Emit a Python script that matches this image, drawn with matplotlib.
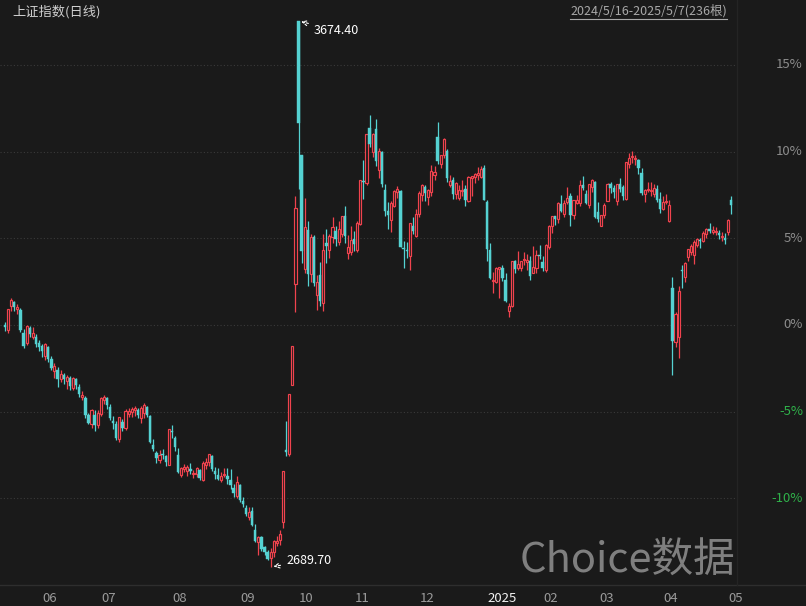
import matplotlib
matplotlib.use("Agg")
import matplotlib.pyplot as plt
import matplotlib.transforms as mtransforms
import pandas as pd

plt.rcParams["font.family"] = ["Noto Sans CJK SC", "DejaVu Sans"]

# trading calendar 2024/5/16 - 2025/5/7
holidays = ["2024-06-10", "2024-09-16", "2024-09-17", "2024-10-01", "2024-10-02",
            "2024-10-03", "2024-10-04", "2024-10-07", "2025-01-01", "2025-01-28",
            "2025-01-29", "2025-01-30", "2025-01-31", "2025-02-03", "2025-02-04",
            "2025-04-04", "2025-05-01", "2025-05-02", "2025-05-05"]

opens = [
    3126, 3117, 3160, 3167, 3155, 3153, 3111, 3093, 3120, 3104, 3105, 3093,
    3089, 3070, 3087, 3064, 3043, 3044, 3029, 3035, 3025, 3030, 3012, 3028, 3015, 2997,
    2995, 2963, 2948, 2963, 2946,
    2966, 2991, 2994, 2978, 2953, 2948, 2920, 2951, 2940, 2965, 2970, 2972, 2972, 2958,
    2968, 2978, 2962, 2910, 2896, 2882, 2893, 2889, 2874,
    2934, 2922, 2891, 2856, 2866, 2863, 2866, 2857, 2857, 2864, 2846, 2874, 2879, 2890,
    2863, 2855, 2847, 2855, 2854, 2846, 2832, 2818,
    2837, 2808, 2796, 2779, 2790, 2756, 2735, 2743, 2725, 2717, 2705, 2716, 2733, 2738,
    2770, 2901, 2893, 3017, 3200,
    3674.40, 3433, 3227, 3298, 3218, 3285, 3181, 3216, 3166, 3274, 3262, 3284, 3296, 3275,
    3291, 3323, 3256, 3258,
    3281, 3262, 3309, 3385, 3382, 3482, 3438, 3479, 3406, 3438, 3369, 3332, 3315, 3341,
    3366, 3367, 3265, 3262, 3250, 3304, 3287,
    3326, 3360, 3375, 3356, 3365, 3397, 3465, 3416, 3432, 3439, 3379, 3388, 3362, 3355,
    3368, 3371, 3350, 3392, 3393, 3397, 3393, 3409,
    3347, 3261, 3206, 3204, 3227, 3228, 3207, 3152, 3160, 3241, 3228, 3229, 3244, 3240,
    3242, 3219, 3229, 3252,
    3239, 3226, 3266, 3304, 3322, 3318, 3344, 3326, 3347, 3359, 3325, 3346, 3346, 3379,
    3363, 3342, 3374, 3383,
    3330, 3305, 3325, 3350, 3380, 3373, 3349, 3381, 3375, 3353, 3416, 3429, 3426, 3423,
    3401, 3362, 3369, 3367, 3363, 3372, 3353,
    3336, 3347, 3314, 3193, 3095, 3104, 3226, 3213, 3249, 3258, 3253, 3270, 3277, 3277,
    3290, 3300, 3294, 3294, 3292, 3285, 3283,
    3293, 3351,
]
highs = [
    3131, 3155, 3174, 3170, 3163, 3157, 3119, 3126, 3125, 3122, 3110, 3099,
    3092, 3093, 3089, 3070, 3057, 3050, 3045, 3040, 3036, 3034, 3033, 3030, 3020, 3007,
    2998, 2968, 2975, 2972, 2972,
    2996, 3000, 2996, 2983, 2962, 2953, 2960, 2957, 2975, 2976, 2979, 2980, 2976, 2980,
    2986, 2980, 2963, 2920, 2898, 2900, 2902, 2891, 2939,
    2945, 2925, 2905, 2870, 2875, 2873, 2877, 2865, 2870, 2867, 2880, 2886, 2894, 2891,
    2870, 2868, 2860, 2868, 2868, 2866, 2840, 2854,
    2840, 2815, 2802, 2797, 2798, 2768, 2746, 2745, 2728, 2720, 2724, 2739, 2746, 2756,
    2863, 2952, 3001, 3088, 3359,
    3674.40, 3433, 3355, 3313, 3290, 3288, 3217, 3240, 3291, 3300, 3291, 3321, 3304, 3313,
    3323, 3340, 3288, 3304,
    3296, 3313, 3387, 3423, 3471, 3505, 3472, 3497, 3445, 3440, 3380, 3347, 3349, 3369,
    3376, 3370, 3277, 3275, 3310, 3320, 3336,
    3367, 3380, 3379, 3371, 3414, 3412, 3492, 3433, 3464, 3443, 3396, 3393, 3383, 3378,
    3388, 3378, 3394, 3394, 3400, 3411, 3413, 3414,
    3352, 3273, 3222, 3230, 3231, 3234, 3220, 3165, 3242, 3243, 3259, 3242, 3258, 3254,
    3250, 3268, 3262, 3270,
    3250, 3272, 3307, 3323, 3323, 3348, 3360, 3352, 3375, 3364, 3352, 3360, 3387, 3395,
    3370, 3381, 3389, 3385,
    3347, 3325, 3346, 3382, 3384, 3379, 3380, 3392, 3378, 3420, 3436, 3439, 3432, 3425,
    3409, 3372, 3383, 3383, 3381, 3378, 3365,
    3359, 3362, 3352, 3213, 3150, 3196, 3234, 3240, 3263, 3272, 3279, 3282, 3283, 3295,
    3301, 3310, 3304, 3303, 3298, 3293, 3292,
    3318, 3358,
]
lows = [
    3116, 3111, 3151, 3151, 3145, 3114, 3085, 3090, 3104, 3100, 3086, 3079,
    3068, 3062, 3060, 3044, 3030, 3014, 3024, 3020, 3010, 3009, 3008, 3010, 2996, 2990,
    2958, 2948, 2940, 2935, 2940,
    2961, 2984, 2975, 2955, 2938, 2918, 2915, 2934, 2937, 2960, 2960, 2962, 2958, 2950,
    2958, 2960, 2913, 2898, 2877, 2878, 2885, 2872, 2873,
    2922, 2898, 2859, 2852, 2860, 2854, 2857, 2850, 2852, 2847, 2844, 2866, 2872, 2863,
    2848, 2847, 2842, 2851, 2840, 2830, 2816, 2814,
    2806, 2797, 2782, 2774, 2764, 2734, 2712, 2718, 2712, 2703, 2689.70, 2708, 2727, 2730,
    2760, 2889, 2889, 3017, 3150,
    3371, 3237, 3220, 3196, 3203, 3197, 3153, 3160, 3152, 3238, 3247, 3274, 3269, 3270,
    3285, 3274, 3245, 3252,
    3260, 3258, 3307, 3354, 3379, 3447, 3429, 3413, 3391, 3374, 3322, 3300, 3294, 3339,
    3355, 3267, 3228, 3247, 3226, 3290, 3285,
    3321, 3350, 3349, 3343, 3359, 3387, 3416, 3410, 3427, 3384, 3374, 3354, 3354, 3351,
    3358, 3341, 3348, 3358, 3382, 3388, 3391, 3351,
    3242, 3209, 3183, 3202, 3175, 3206, 3167, 3141, 3159, 3220, 3226, 3224, 3235, 3226,
    3208, 3219, 3220, 3245,
    3223, 3221, 3263, 3292, 3306, 3310, 3330, 3320, 3344, 3305, 3318, 3344, 3340, 3369,
    3345, 3337, 3365, 3319,
    3311, 3304, 3319, 3350, 3364, 3355, 3342, 3365, 3352, 3351, 3409, 3419, 3415, 3398,
    3361, 3347, 3366, 3358, 3357, 3348, 3328,
    3334, 3345, 3312, 3036, 3086, 3067, 3192, 3203, 3242, 3253, 3236, 3267, 3264, 3275,
    3283, 3292, 3290, 3288, 3281, 3277, 3272,
    3288, 3327,
]
closes = [
    3122.40, 3154.03, 3171.15, 3157.97, 3158.54, 3116.39, 3088.87, 3124.04, 3109.57,
    3111.02, 3091.68, 3086.81,
    3078.49, 3091.20, 3065.40, 3048.79, 3051.28, 3028.05, 3037.47, 3028.92, 3032.63,
    3015.89, 3030.25, 3018.05, 3000.95, 2998.14, 2963.10, 2950.00, 2972.53, 2945.85,
    2967.40,
    2994.73, 2997.01, 2982.38, 2957.57, 2949.93, 2922.45, 2959.37, 2939.36, 2970.39,
    2971.30, 2974.01, 2976.30, 2962.84, 2977.13, 2982.31, 2964.22, 2915.37, 2901.95,
    2886.74, 2890.90, 2891.85, 2879.30, 2938.75,
    2932.39, 2905.34, 2860.70, 2867.28, 2869.90, 2869.83, 2862.19, 2858.20, 2867.95,
    2850.65, 2877.36, 2879.43, 2893.67, 2866.66, 2856.58, 2848.77, 2854.37, 2855.52,
    2848.49, 2837.43, 2823.11, 2842.21,
    2811.04, 2802.98, 2784.28, 2788.31, 2765.81, 2736.49, 2744.19, 2721.80, 2717.12,
    2704.09, 2717.28, 2736.02, 2736.81, 2748.92, 2863.13, 2896.31, 3000.95, 3087.53,
    3336.50,
    3489.78, 3258.86, 3301.93, 3217.74, 3284.32, 3201.29, 3202.95, 3169.38, 3261.56,
    3268.11, 3285.87, 3302.80, 3280.26, 3299.70, 3322.20, 3286.41, 3266.24, 3279.82,
    3272.01, 3310.21, 3386.99, 3383.81, 3470.66, 3452.30, 3470.07, 3421.97, 3439.28,
    3379.84, 3330.73, 3323.85, 3346.01, 3367.99, 3370.40, 3267.19, 3263.76, 3259.76,
    3309.78, 3295.70, 3326.46,
    3363.98, 3378.81, 3364.65, 3368.86, 3404.08, 3402.53, 3422.66, 3432.49, 3461.50,
    3391.88, 3386.33, 3361.49, 3382.21, 3370.03, 3368.07, 3351.26, 3393.53, 3393.35,
    3398.08, 3400.14, 3407.33, 3351.76,
    3262.56, 3211.43, 3206.92, 3229.64, 3230.17, 3211.39, 3168.52, 3160.76, 3240.94,
    3227.12, 3236.03, 3241.82, 3244.38, 3242.62, 3213.62, 3230.16, 3252.63, 3250.60,
    3229.49, 3270.66, 3303.67, 3322.17, 3318.06, 3346.39, 3332.48, 3346.72, 3355.83,
    3324.49, 3351.54, 3350.78, 3379.11, 3373.03, 3346.04, 3380.21, 3388.06, 3320.90,
    3316.93, 3324.21, 3341.96, 3381.10, 3372.55, 3366.16, 3379.83, 3371.92, 3358.73,
    3419.56, 3426.43, 3429.76, 3426.43, 3408.95, 3364.83, 3370.03, 3369.98, 3368.70,
    3373.75, 3351.31, 3335.75,
    3348.44, 3350.13, 3342.01, 3096.58, 3145.55, 3186.81, 3223.64, 3238.23, 3262.81,
    3267.66, 3276.00, 3280.34, 3276.73, 3291.43, 3299.76, 3296.36, 3297.29, 3295.06,
    3288.41, 3286.65, 3279.03,
    3316.11, 3342.67,
]

pct_ticks = [15, 10, 5, 0, -5, -10]
high_label = "3674.40"
low_label = "2689.70"
title = "上证指数(日线)"
range_text = "2024/5/16-2025/5/7(236根)"
watermark = "Choice数据"

BG = "#1a1a1a"
RED = "#f0434e"
CYAN = "#55d2d2"
GRID = "#3a3a3a"


def to_pct(values, base):
    return [(v / base - 1) * 100 for v in values]


def main():
    dates = pd.bdate_range("2024-05-16", "2025-05-07")
    dates = dates[~dates.isin(pd.to_datetime(holidays))]

    base = opens[0]
    o, h, l, c = (to_pct(s, base) for s in (opens, highs, lows, closes))
    x = list(range(len(closes)))

    fig = plt.figure(figsize=(8.06, 6.06), dpi=100, facecolor=BG)
    ax = fig.add_axes([0, 21 / 606, 737 / 806, 585 / 606], facecolor=BG)

    for i in x:
        up = c[i] >= o[i]
        col = RED if up else CYAN
        ax.vlines(i, l[i], h[i], color=col, lw=0.9, zorder=2)
        bottom = min(o[i], c[i])
        height = max(abs(c[i] - o[i]), 0.06)
        if up:
            ax.bar(i, height, bottom=bottom, width=0.68, facecolor=BG,
                   edgecolor=col, linewidth=0.85, zorder=3)
        else:
            ax.bar(i, height, bottom=bottom, width=0.76, facecolor=col,
                   edgecolor=col, linewidth=0.3, zorder=3)

    for t in pct_ticks:
        ax.axhline(t, color=GRID, lw=0.8, ls=(0, (1, 2)), zorder=1)

    ax.set_xlim(-1.62, 236.9)
    ax.set_ylim(-15.0, 18.75)
    ax.set_xticks([])
    ax.set_yticks([])
    for s in ax.spines.values():
        s.set_visible(False)

    # right-hand percent labels
    trans = mtransforms.blended_transform_factory(fig.transFigure, ax.transData)
    for t in pct_ticks:
        col = "#2fb24a" if t < 0 else "#8c8c8c"
        ax.text(803 / 806, t, f"{t}%", transform=trans, ha="right", va="center",
                color=col, fontsize=9.5)

    # month labels along the bottom
    month_idx = [i for i in range(1, len(dates)) if dates[i].month != dates[i - 1].month]
    transx = mtransforms.blended_transform_factory(ax.transData, fig.transFigure)
    for i in month_idx:
        d = dates[i]
        lab = str(d.year) if d.month == 1 else f"{d.month:02d}"
        col = "#f2f2f2" if d.month == 1 else "#9a9a9a"
        ax.text(i + 0.2, 1 - 599 / 606, lab, transform=transx, ha="left", va="center",
                color=col, fontsize=9.5)

    fig.add_artist(plt.Line2D([0, 1], [1 - 585 / 606] * 2, color="#2e2e2e", lw=1))
    fig.add_artist(plt.Line2D([737 / 806] * 2, [1 - 585 / 606, 1], color="#242424", lw=1))

    # max / min annotations
    ih = highs.index(max(highs))
    il = lows.index(min(lows))
    arrow = dict(arrowstyle="->", color="white", lw=0.8, linestyle=(0, (2, 1.5)))
    ax.annotate(high_label, xy=(ih, h[ih]), xytext=(11, -7), textcoords="offset points",
                ha="left", va="center", color="white", fontsize=9, arrowprops=arrow)
    ax.annotate(low_label, xy=(il, l[il]), xytext=(11, 4.5), textcoords="offset points",
                ha="left", va="center", color="white", fontsize=9, arrowprops=arrow)

    fig.text(12 / 806, 1 - 12 / 606, title, color="#cfcfcf", fontsize=9.5,
             ha="left", va="center")
    fig.text(727 / 806, 1 - 11 / 606, range_text, color="#a8a8a8", fontsize=9,
             ha="right", va="center")
    fig.add_artist(plt.Line2D([570 / 806, 727 / 806], [1 - 19 / 606] * 2,
                              color="#a8a8a8", lw=0.8))

    fig.text(628 / 806, 1 - 560 / 606, watermark, color="#929292", alpha=0.85,
             fontsize=30, ha="center", va="center")

    fig.savefig("out.png", dpi=100, facecolor=BG)


if __name__ == "__main__":
    main()
